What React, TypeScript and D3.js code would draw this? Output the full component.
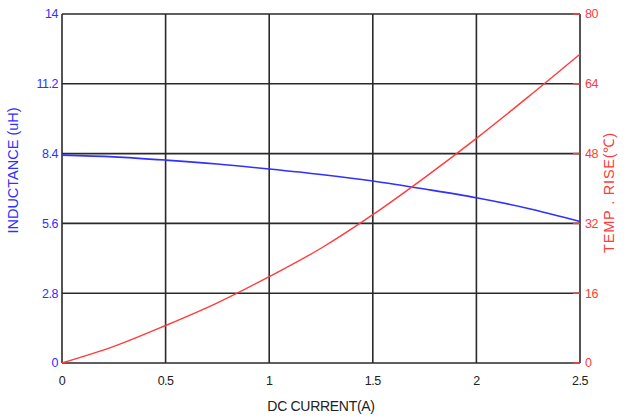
import React from "react";
import * as d3 from "d3";

// DC current (A) sample points
const current = [0, 0.25, 0.5, 0.75, 1, 1.25, 1.5, 1.75, 2, 2.25, 2.5];
// Inductance (uH) vs DC current
const inductance = [8.34, 8.27, 8.14, 7.98, 7.78, 7.56, 7.3, 6.98, 6.63, 6.2, 5.68];
// Temperature rise (°C) vs DC current
const tempRise = [0, 3.8, 8.6, 13.8, 19.8, 26.3, 34.0, 42.5, 51.5, 61.0, 70.8];

const xTicks = [0, 0.5, 1, 1.5, 2, 2.5];
const xTickLabels = ["0", "0.5", "1", "1.5", "2", "2.5"];
const leftTicks = [0, 2.8, 5.6, 8.4, 11.2, 14];
const leftTickLabels = ["0", "2.8", "5.6", "8.4", "11.2", "14"];
const rightTicks = [0, 16, 32, 48, 64, 80];
const rightTickLabels = ["0", "16", "32", "48", "64", "80"];

const W = 627;
const H = 419;
const M = { left: 62, right: 47, top: 14, bottom: 56 };

export default function App() {
  const x = d3.scaleLinear().domain([0, 2.5]).range([M.left, W - M.right]);
  const yL = d3.scaleLinear().domain([0, 14]).range([H - M.bottom, M.top]);
  const yR = d3.scaleLinear().domain([0, 80]).range([H - M.bottom, M.top]);

  const lineL = d3
    .line<number>()
    .x((_, i) => x(current[i]))
    .y((d) => yL(d))
    .curve(d3.curveMonotoneX);
  const lineR = d3
    .line<number>()
    .x((_, i) => x(current[i]))
    .y((d) => yR(d))
    .curve(d3.curveMonotoneX);

  const x0 = x(0);
  const x1 = x(2.5);
  const y0 = yL(0);
  const y1 = yL(14);
  const font = "'Liberation Sans', Arial, sans-serif";
  const gridColor = "#2a2a2a";
  const blue = "#3030ff";
  const red = "#ff3b3b";

  return (
    <svg
      width={W}
      height={H}
      style={{ position: "absolute", left: 0, top: 0, background: "#fff" }}
      fontFamily={font}
    >
      {/* horizontal grid */}
      {leftTicks.map((t) => (
        <line key={"h" + t} x1={x0} x2={x1} y1={yL(t)} y2={yL(t)} stroke={gridColor} strokeWidth={1.6} />
      ))}
      {/* vertical grid */}
      {xTicks.map((t) => (
        <line key={"v" + t} x1={x(t)} x2={x(t)} y1={y1} y2={y0} stroke={gridColor} strokeWidth={1.6} />
      ))}
      {/* right-axis red ticks */}
      {rightTicks.map((t) => (
        <line key={"rt" + t} x1={x1 - 7} x2={x1} y1={yR(t)} y2={yR(t)} stroke={red} strokeWidth={1.6} />
      ))}

      <path d={lineL(inductance) ?? ""} fill="none" stroke={blue} strokeWidth={1.6} />
      <path d={lineR(tempRise) ?? ""} fill="none" stroke={red} strokeWidth={1.4} />

      {/* left tick labels */}
      {leftTicks.map((t, i) => (
        <text key={"lt" + t} x={x0 - 4} y={yL(t)} dy="0.35em" textAnchor="end" fontSize={12.5} fill={blue} letterSpacing={-0.5}>
          {leftTickLabels[i]}
        </text>
      ))}
      {/* right tick labels */}
      {rightTicks.map((t, i) => (
        <text key={"rl" + t} x={x1 + 5} y={yR(t)} dy="0.35em" textAnchor="start" fontSize={12.5} fill={red} letterSpacing={-0.5}>
          {rightTickLabels[i]}
        </text>
      ))}
      {/* x tick labels */}
      {xTicks.map((t, i) => (
        <text key={"xl" + t} x={x(t)} y={y0 + 22} textAnchor="middle" fontSize={12.5} fill="#222" letterSpacing={-0.5}>
          {xTickLabels[i]}
        </text>
      ))}

      <text x={(x0 + x1) / 2} y={H - 8} textAnchor="middle" fontSize={14} fill="#222" letterSpacing={-0.3}>
        DC CURRENT(A)
      </text>
      <text
        transform={`translate(18, ${(y0 + y1) / 2 - 18}) rotate(-90)`}
        textAnchor="middle"
        fontSize={14.5}
        fill={blue}
      >
        INDUCTANCE (uH)
      </text>
      <text
        transform={`translate(614, ${(y0 + y1) / 2 + 4}) rotate(-90)`}
        textAnchor="middle"
        fontSize={14.5}
        fill={red}
        letterSpacing={0.8}
      >
        TEMP . RISE(℃)
      </text>
    </svg>
  );
}
